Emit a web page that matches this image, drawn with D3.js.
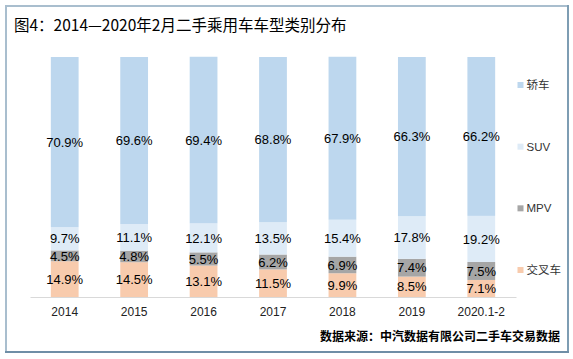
<!DOCTYPE html>
<html>
<head>
<meta charset="utf-8">
<script src="https://cdn.jsdelivr.net/npm/d3@7"></script>
<style>
  html, body { margin: 0; padding: 0; background: #fff; }
  svg { display: block; }
</style>
</head>
<body>
<svg id="chart" width="573" height="359"></svg>
<script>
const categories = ["2014", "2015", "2016", "2017", "2018", "2019", "2020.1-2"];
const seriesNames = ["交叉车", "MPV", "SUV", "轿车"];
const crossover = [14.9, 14.5, 13.1, 11.5, 9.9, 8.5, 7.1];
const mpv = [4.5, 4.8, 5.5, 6.2, 6.9, 7.4, 7.5];
const suv = [9.7, 11.1, 12.1, 13.5, 15.4, 17.8, 19.2];
const sedan = [70.9, 69.6, 69.4, 68.8, 67.9, 66.3, 66.2];
const seriesValues = [crossover, mpv, suv, sedan];
const colors = ["#f8cbad", "#a6a6a6", "#deebf7", "#bdd7ee"];
const title = "图4：2014—2020年2月二手乘用车车型类别分布";
const source = "数据来源：中汽数据有限公司二手车交易数据";

const svg = d3.select("#chart");

// frame
svg.append("line").attr("x1", 5).attr("x2", 568).attr("y1", 6).attr("y2", 6).attr("stroke", "#a9bece").attr("stroke-width", 2);
svg.append("line").attr("x1", 6).attr("x2", 6).attr("y1", 5).attr("y2", 353).attr("stroke", "#a9bece").attr("stroke-width", 2);
svg.append("line").attr("x1", 568).attr("x2", 568).attr("y1", 5).attr("y2", 353).attr("stroke", "#7e9db3").attr("stroke-width", 2);
svg.append("line").attr("x1", 5).attr("x2", 569).attr("y1", 352).attr("y2", 352).attr("stroke", "#6f8ea6").attr("stroke-width", 2);

// title
svg.append("text").attr("x", 14).attr("y", 31)
  .attr("font-family", "'Noto Sans CJK SC', sans-serif")
  .attr("font-size", 15.5).attr("fill", "#000").text(title);

const x = d3.scaleBand().domain(categories).range([30, 516]).paddingInner(0.6).paddingOuter(0.3);
const y = d3.scaleLinear().domain([0, 100]).range([297, 57]);

const rows = categories.map((c, i) => {
  const o = { cat: c };
  seriesNames.forEach((s, j) => o[s] = seriesValues[j][i]);
  return o;
});
const stacked = d3.stack().keys(seriesNames)(rows);

const g = svg.append("g");
stacked.forEach((layer, j) => {
  g.selectAll(null).data(layer).enter().append("rect")
    .attr("x", d => x(d.data.cat))
    .attr("width", x.bandwidth())
    .attr("y", d => y(d[1]))
    .attr("height", d => y(d[0]) - y(d[1]))
    .attr("fill", colors[j]);
});
stacked.forEach((layer, j) => {
  g.selectAll(null).data(layer).enter().append("text")
    .attr("x", d => x(d.data.cat) + x.bandwidth() / 2)
    .attr("y", d => (y(d[0]) + y(d[1])) / 2)
    .attr("dy", "0.36em")
    .attr("text-anchor", "middle")
    .attr("font-family", "'Liberation Sans', Arial, sans-serif")
    .attr("font-size", 13).attr("fill", "#000")
    .text(d => (d[1] - d[0]).toFixed(1) + "%");
});

// x axis
const axis = svg.append("g").attr("transform", "translate(0,297)")
  .call(d3.axisBottom(x).tickSize(0).tickPadding(10));
axis.select(".domain").attr("stroke", "#d9d9d9").attr("stroke-width", 1.2);
axis.selectAll("text").attr("font-family", "'Liberation Sans', Arial, sans-serif")
  .attr("font-size", 12).attr("fill", "#222");

// legend (top to bottom: 轿车, SUV, MPV, 交叉车)
const legendOrder = [3, 2, 1, 0];
const legendY = d3.scalePoint().domain(legendOrder.map(String)).range([85, 270]);
const lg = svg.append("g");
legendOrder.forEach(j => {
  const ly = legendY(String(j));
  lg.append("rect").attr("x", 517.5).attr("y", ly - 3).attr("width", 6).attr("height", 6).attr("fill", colors[j]);
  lg.append("text").attr("x", 526.5).attr("y", ly).attr("dy", "0.36em")
    .attr("font-family", "'Liberation Sans', 'Noto Sans CJK SC', sans-serif")
    .attr("font-size", 11.5).attr("fill", "#333").text(seriesNames[j]);
});

// source
svg.append("text").attr("x", 560).attr("y", 337).attr("dy", "0.36em")
  .attr("text-anchor", "end")
  .attr("font-family", "'Noto Sans CJK SC', sans-serif")
  .attr("font-weight", "bold").attr("font-size", 12).attr("fill", "#000").text(source);
</script>
</body>
</html>
